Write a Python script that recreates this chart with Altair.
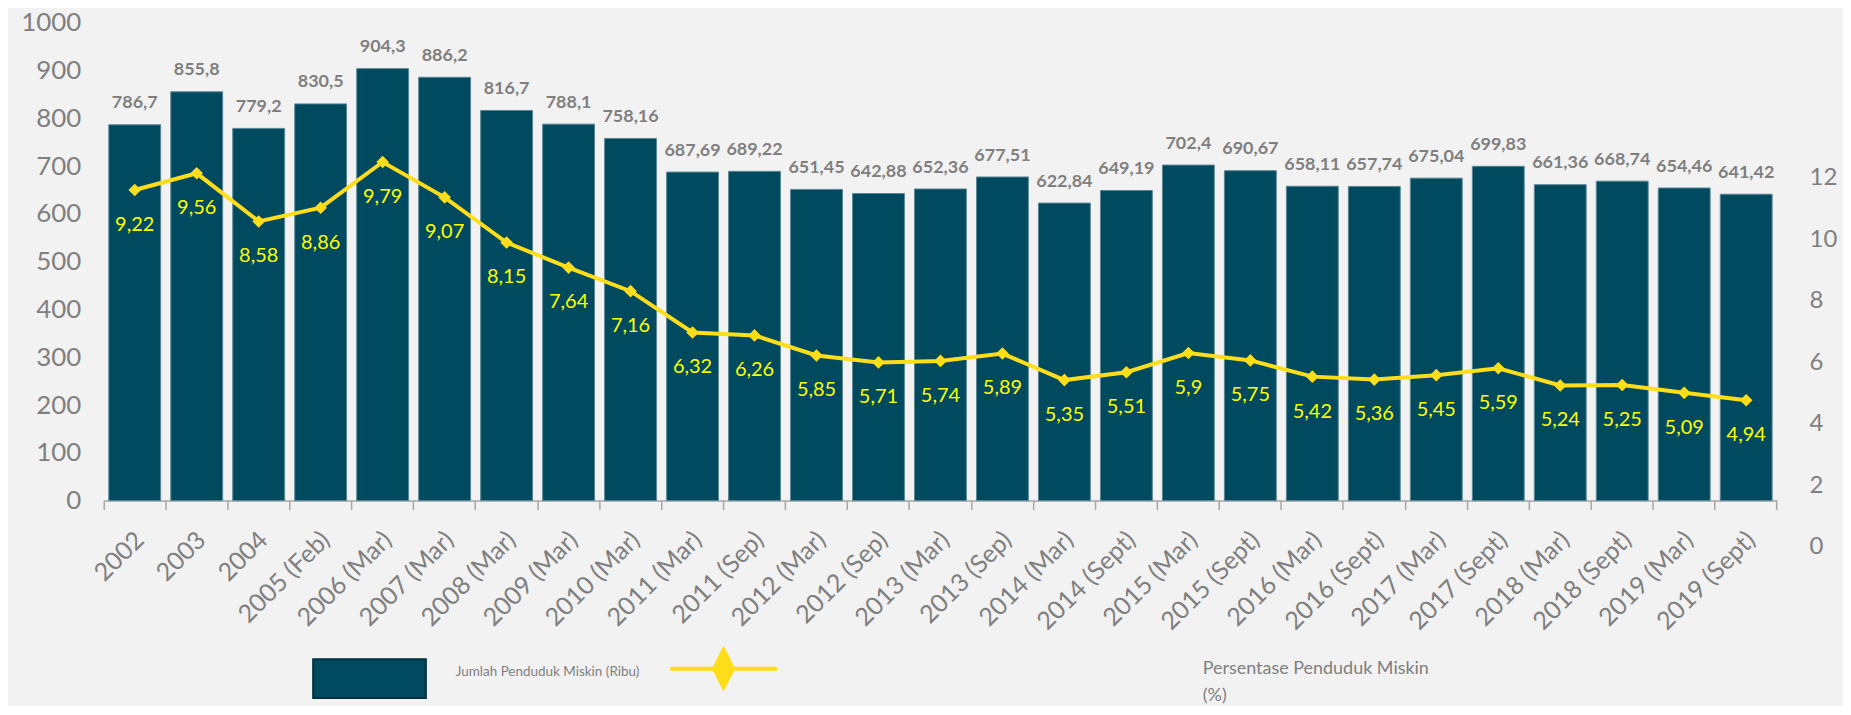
import altair as alt
import pandas as pd

categories = ["2002", "2003", "2004", "2005 (Feb)", "2006 (Mar)", "2007 (Mar)",
              "2008 (Mar)", "2009 (Mar)", "2010 (Mar)", "2011 (Mar)", "2011 (Sep)",
              "2012 (Mar)", "2012 (Sep)", "2013 (Mar)", "2013 (Sep)", "2014 (Mar)",
              "2014 (Sept)", "2015 (Mar)", "2015 (Sept)", "2016 (Mar)", "2016 (Sept)",
              "2017 (Mar)", "2017 (Sept)", "2018 (Mar)", "2018 (Sept)", "2019 (Mar)",
              "2019 (Sept)"]
jumlah = [786.7, 855.8, 779.2, 830.5, 904.3, 886.2, 816.7, 788.1, 758.16, 687.69,
          689.22, 651.45, 642.88, 652.36, 677.51, 622.84, 649.19, 702.4, 690.67,
          658.11, 657.74, 675.04, 699.83, 661.36, 668.74, 654.46, 641.42]
persen = [9.22, 9.56, 8.58, 8.86, 9.79, 9.07, 8.15, 7.64, 7.16, 6.32, 6.26, 5.85,
          5.71, 5.74, 5.89, 5.35, 5.51, 5.9, 5.75, 5.42, 5.36, 5.45, 5.59, 5.24,
          5.25, 5.09, 4.94]
left_ticks = list(range(0, 1001, 100))
right_ticks = [0, 2, 4, 6, 8, 10, 12]

BAR_NAME = "Jumlah Penduduk Miskin (Ribu)"
LINE_NAME = "Persentase Penduduk Miskin"

df = pd.DataFrame({
    "kategori": categories,
    "jumlah": jumlah,
    "persen": persen,
    "jumlah_lbl": [str(v).replace(".", ",") for v in jumlah],
    "persen_lbl": [str(v).replace(".", ",") for v in persen],
    "seri_bar": BAR_NAME,
    "seri_line": LINE_NAME,
})
df_right = pd.DataFrame({"r": right_ticks})

W, H = 1678, 479
GREY = "#7f7f7f"
BAR = "#004a60"
LINE = "#ffdd1a"

x_enc = alt.X("kategori:N", sort=categories, title=None,
              scale=alt.Scale(paddingInner=0, paddingOuter=0),
              axis=alt.Axis(labelAngle=-45, labelAlign="right", labelBaseline="middle",
                            labelFontSize=25, labelColor=GREY, labelPadding=26,
                            labelOffset=5, bandPosition=1, tickExtra=True,
                            tickSize=9, tickColor="#a6a6a6", tickWidth=1.5,
                            domainColor="#a6a6a6", domainWidth=1.5, grid=False,
                            labelLimit=300))

bars = alt.Chart(df).mark_bar(width=alt.RelativeBandSize(0.837), stroke="#5a8796",
                              strokeWidth=1).encode(
    x=x_enc,
    y=alt.Y("jumlah:Q", title=None,
            scale=alt.Scale(domain=[0, 1000], nice=False, zero=True),
            axis=alt.Axis(values=left_ticks, format="d", labelFontSize=26,
                          labelColor=GREY, ticks=False, tickSize=0, domain=False,
                          grid=False, labelPadding=23)),
    fill=alt.Fill("seri_bar:N",
                  scale=alt.Scale(domain=[BAR_NAME], range=[BAR]),
                  legend=alt.Legend(title=None, orient="none", legendX=209,
                                    legendY=600, padding=0,
                                    symbolType="M-1,-0.345L1,-0.345L1,0.345L-1,0.345Z",
                                    symbolSize=12769, symbolStrokeColor="#00303f",
                                    symbolStrokeWidth=2, labelOffset=29,
                                    labelFontSize=13.5, labelColor=GREY,
                                    labelBaseline="bottom", labelLimit=600)),
)
bar_text = alt.Chart(df).mark_text(dy=-21.5, fontSize=18, fontWeight="bold",
                                   color=GREY, baseline="middle").encode(
    x=alt.X("kategori:N", sort=categories),
    y=alt.Y("jumlah:Q"),
    text="jumlah_lbl:N",
)
bar_layer = alt.layer(bars, bar_text)

y_line = alt.Y("persen:Q", title=None,
               scale=alt.Scale(domain=[2.896, 12.622], nice=False, zero=False),
               axis=None)
line = alt.Chart(df).mark_line(strokeWidth=4).encode(
    x=alt.X("kategori:N", sort=categories),
    y=y_line,
    stroke=alt.Stroke("seri_line:N",
                      scale=alt.Scale(domain=[LINE_NAME], range=[LINE]),
                      legend=alt.Legend(title=None, orient="none", legendX=566,
                                        legendY=592, padding=0,
                                        symbolType="M-1,0L1,0M-0.178,0L0,-0.346L0.178,0L0,0.346Z",
                                        symbolSize=11449, symbolStrokeWidth=4,
                                        symbolFillColor=LINE, labelOffset=425,
                                        labelFontSize=18, labelColor=GREY,
                                        labelLimit=600, labelBaseline="middle",
                                        labelExpr="['Persentase Penduduk Miskin', '(%)']")),
)
points = alt.Chart(df).mark_point(shape="diamond", filled=True, size=160,
                                  color=LINE, opacity=1).encode(
    x=alt.X("kategori:N", sort=categories),
    y=alt.Y("persen:Q"),
)
line_text = alt.Chart(df).mark_text(dy=35, fontSize=20, color="#ffff00",
                                    baseline="middle").encode(
    x=alt.X("kategori:N", sort=categories),
    y=alt.Y("persen:Q"),
    text="persen_lbl:N",
)
line_layer = alt.layer(line, points, line_text)

right_axis = alt.Chart(df_right).mark_point(opacity=0).encode(
    y=alt.Y("r:Q", title=None,
            scale=alt.Scale(domain=[0, 12], range=[525.2, 155.2], nice=False, zero=False),
            axis=alt.Axis(orient="right", values=right_ticks, labelFontSize=24,
                          labelColor=GREY, ticks=False, domain=False,
                          grid=False, offset=30,
                          labelExpr="datum.value < 10 ? '\u2007' + datum.label : datum.label")),
)

chart = alt.layer(bar_layer, line_layer, right_axis).resolve_scale(
    y="independent", fill="independent", stroke="independent"
).properties(
    width=W, height=H,
    autosize=alt.AutoSizeParams(type="none"),
    padding={"left": 96, "top": 14, "right": 66, "bottom": 205},
    background="#f2f2f2",
).configure(
    font="Lato",
    style={"guide-label": {"lineHeight": 27}},
).configure_view(stroke=None)

chart.save("out.html", embed_options={"renderer": "svg", "actions": False})
